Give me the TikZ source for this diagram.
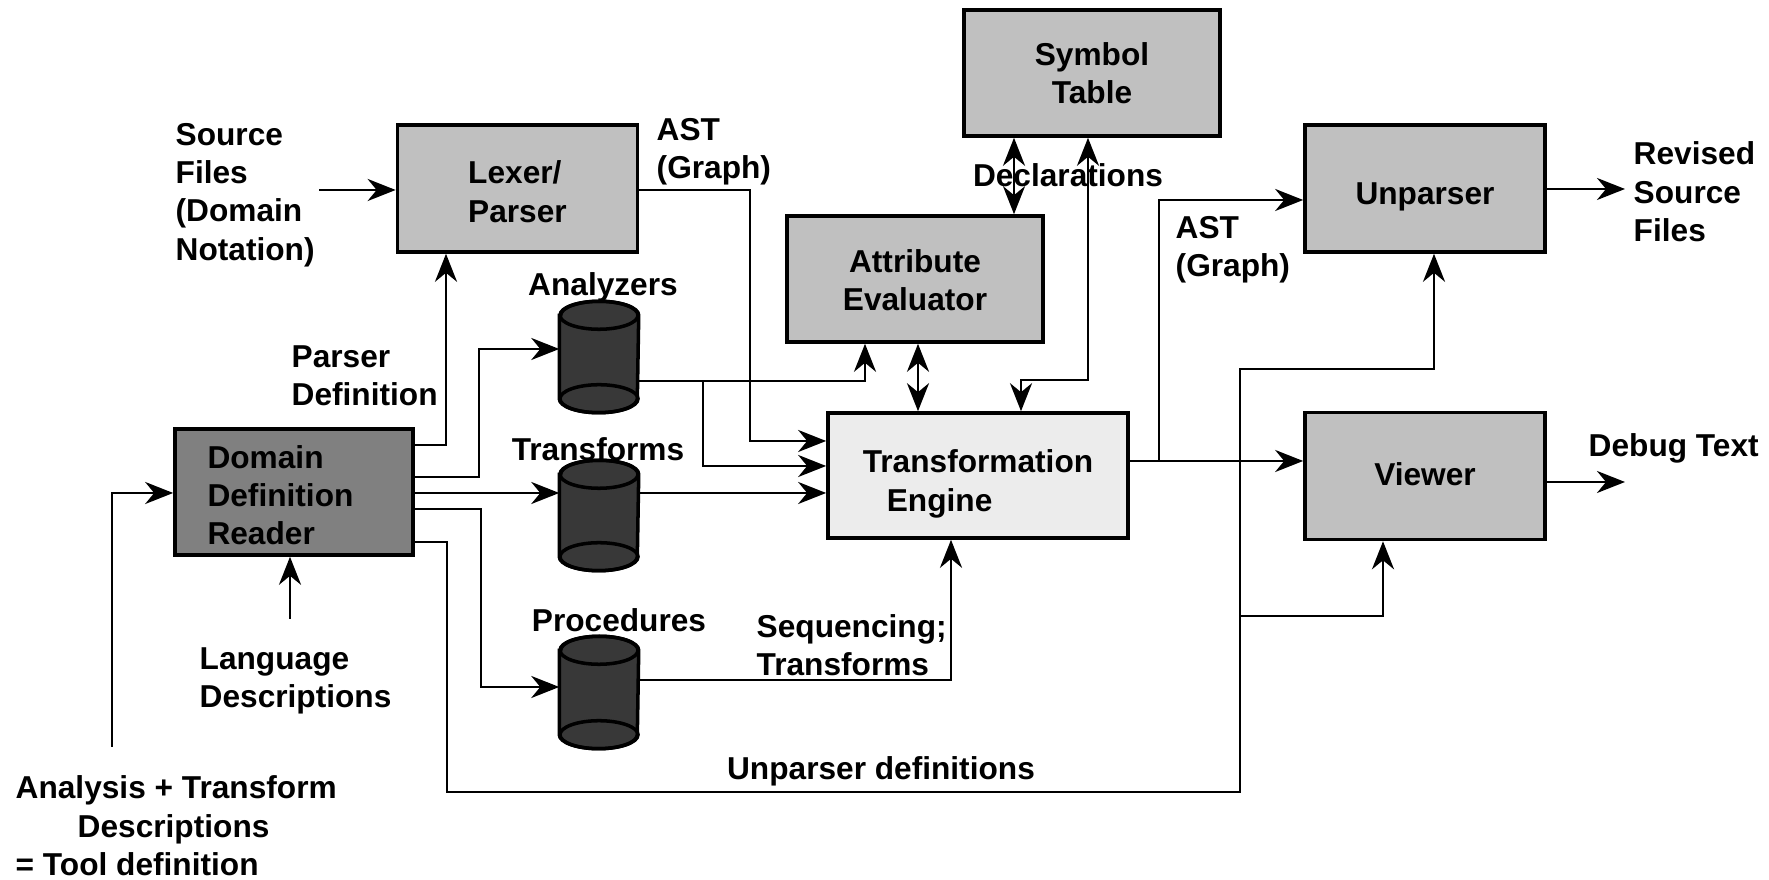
\documentclass[tikz,border=0pt]{standalone}
\usepackage{fontspec}
\setmainfont{Liberation Sans}
\usetikzlibrary{arrows.meta}
\definecolor{boxgray}{HTML}{C0C0C0}
\definecolor{ddrgray}{HTML}{808080}
\definecolor{tegray}{HTML}{ECECEC}
\definecolor{cyldark}{HTML}{383838}
\newcommand\drawcyl[1]{%
  \filldraw[cylfill] ([yshift=-0.14cm]#1.north west) -- ([yshift=0.14cm]#1.south west)
    arc[start angle=180, end angle=360, x radius=0.39cm, y radius=0.14cm]
    -- ([yshift=-0.14cm]#1.north east)
    arc[start angle=0, end angle=180, x radius=0.39cm, y radius=0.14cm] -- cycle;
  \draw[line width=1pt] ([yshift=-0.14cm]#1.north) ellipse[x radius=0.39cm, y radius=0.14cm];
  \draw[line width=1pt] ([yshift=0.14cm]#1.south) ellipse[x radius=0.39cm, y radius=0.14cm];
}
% box text: lowered by #1, column type #2, lines #3
\newcommand\btext[3]{\raisebox{-#1}[\height][\depth]{\begin{tabular}{@{}#2@{}}#3\end{tabular}}}
\tikzset{
  box/.style={draw, line width=1pt, fill=boxgray, minimum width=2.4cm, minimum height=1.27cm, inner sep=0pt},
  lbl/.style={inner sep=0pt, align=left},
  conn/.style={line width=0.8pt},
  tip/.tip={Stealth[length=0.28cm,width=0.22cm,inset=0.09cm]},
  arr/.style={conn, -tip},
  dbl/.style={conn, tip-tip},
  cylbox/.style={minimum width=0.78cm, minimum height=1.1cm, inner sep=0pt},
  cylfill/.style={fill=cyldark, draw, line width=1pt},
}
\begin{document}
\begin{tikzpicture}[x=0.01cm, y=0.01cm, every node/.style={font=\bfseries\fontsize{9}{10.9}\selectfont}]
\useasboundingbox (0,0) rectangle (1769,-880);

% boxes
\node[box] (lexer) at (517.5,-188.5) {\btext{0.07cm}{l}{Lexer/\\Parser}};
\node[box, minimum width=2.56cm, minimum height=1.26cm] (symtab) at (1092,-73) {\btext{0.04cm}{c}{Symbol\\Table}};
\node[box, minimum width=2.56cm, minimum height=1.26cm] (attr) at (915,-279) {\btext{0.05cm}{c}{Attribute\\Evaluator}};
\node[box] (unparser) at (1425,-188.5) {\btext{0.085cm}{c}{Unparser}};
\node[box, fill=ddrgray, minimum width=2.38cm, minimum height=1.26cm] (ddr) at (294,-492) {\btext{0.07cm}{l}{Domain\\Definition\rule{0.27cm}{0pt}\\Reader}};
\node[box, fill=tegray, minimum width=3.0cm, minimum height=1.25cm] (te) at (978,-475.5) {\btext{0.09cm}{l}{Transformation\\\rule{0.24cm}{0pt}Engine}};
\node[box] (viewer) at (1425,-476) {\btext{0.02cm}{c}{Viewer}};

% cylinders
\node[cylbox] (an) at (599,-357) {};
\node[cylbox, minimum height=1.09cm] (tr) at (599,-515.5) {};
\node[cylbox, minimum height=1.11cm] (pr) at (599,-692.5) {};
\drawcyl{an}
\drawcyl{tr}
\drawcyl{pr}

% labels
\node[lbl, anchor=west] (srclbl) at (175,-195) {Source\\Files\\(Domain\\Notation)};
\node[lbl, anchor=west] (ast1) at (656,-151.5) {AST\\(Graph)};
\node[lbl, anchor=center] (decl) at (1068,-175) {Declarations};
\node[lbl, anchor=west] (ast2) at (1175,-250) {AST\\(Graph)};
\node[lbl, anchor=west] (revlbl) at (1633,-192) {Revised\\Source\\Files};
\node[lbl, anchor=west] (dbglbl) at (1588,-448) {Debug Text};
\node[lbl, anchor=west] (pdef) at (291,-376) {Parser\\Definition};
\node[lbl, anchor=center] (anlbl) at (603,-287) {Analyzers};
\node[lbl, anchor=center] (trlbl) at (598,-449) {Transforms};
\node[lbl, anchor=center] (prlbl) at (619,-620) {Procedures};
\node[lbl, anchor=west] (langlbl) at (199,-681) {Language\\Descriptions};
\node[lbl, anchor=west] (seqlbl) at (756,-645) {Sequencing;\\Transforms};
\node[lbl, anchor=center] (unplbl) at (881,-771) {Unparser definitions};
\node[lbl, anchor=west] (toollbl) at (15,-826) {Analysis + Transform\\\hspace*{0.62cm}Descriptions\\= Tool definition};

% free ends
\coordinate (srcend) at (319,-190);
\coordinate (revend) at (1625,-189);
\coordinate (dbgend) at (1625,-482);
\coordinate (langend) at (290,-619);
\coordinate (toolend) at (112,-747);
\coordinate (vbranch) at (1240,-616);
\coordinate (abranch) at (703,-381);
\coordinate (astbranch) at (1159,-461);

% connectors
\draw[arr] (srcend) -- (srcend -| lexer.west);
\draw[arr] (ddr.east |- 0,-445) -- (446,-445) -- (446,0 |- lexer.south);
\draw[arr] (ddr.east |- 0,-477) -- (479,-477) -- (479,-349) -- (an.west |- 0,-349);
\draw[arr] (ddr.east |- 0,-493) -- (tr.west |- 0,-493);
\draw[arr] (ddr.east |- 0,-509) -- (481,-509) -- (481,-687) -- (pr.west |- 0,-687);
\draw[arr] (ddr.east |- 0,-542) -- (447,-542) -- (447,-792) -- (1240,-792) -- (1240,-369) -- (1434,-369) -- (1434,0 |- unparser.south);
\draw[arr] (vbranch) -- (1383,-616) -- (1383,0 |- viewer.south);
\draw[arr] (lexer.east |- 0,-190) -- (750,-190) -- (750,-441) -- (te.west |- 0,-441);
\draw[arr] (an.east |- 0,-381) -- (865,-381) -- (865,0 |- attr.south);
\draw[arr] (abranch) -- (703,-466) -- (te.west |- 0,-466);
\draw[arr] (tr.east |- 0,-493) -- (te.west |- 0,-493);
\draw[arr] (pr.east |- 0,-680) -- (951,-680) -- (951,0 |- te.south);
\draw[dbl] (918,0 |- attr.south) -- (918,0 |- te.north);
\draw[dbl] (1014,0 |- symtab.south) -- (1014,0 |- attr.north);
\draw[dbl] (1088,0 |- symtab.south) -- (1088,-380) -- (1021,-380) -- (1021,0 |- te.north);
\draw[arr] (te.east |- 0,-461) -- (viewer.west |- 0,-461);
\draw[arr] (astbranch) -- (1159,-200) -- (unparser.west |- 0,-200);
\draw[arr] (unparser.east |- revend) -- (revend);
\draw[arr] (viewer.east |- dbgend) -- (dbgend);
\draw[arr] (langend) -- (langend |- ddr.south);
\draw[arr] (toolend) -- (112,-493) -- (ddr.west |- 0,-493);
\end{tikzpicture}
\end{document}
